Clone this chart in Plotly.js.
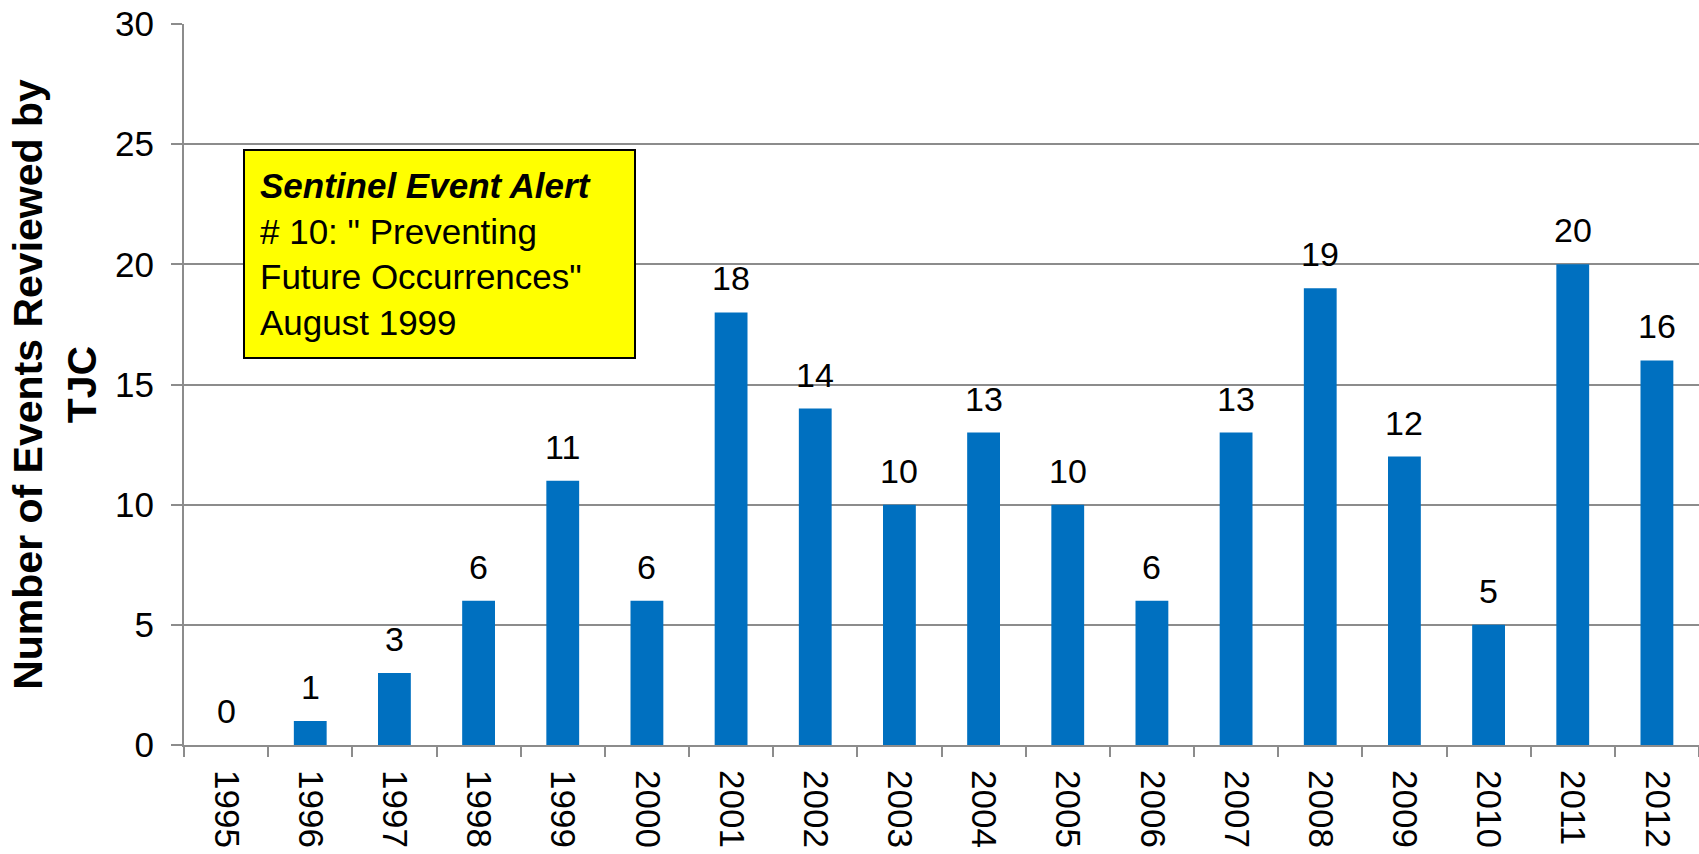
<!DOCTYPE html>
<html>
<head>
<meta charset="utf-8">
<script src="https://cdn.plot.ly/plotly-3.0.1.min.js"></script>
<style>html,body{margin:0;padding:0;background:#fff;}#chart{width:1699px;height:854px;}</style>
</head>
<body>
<div id="chart"></div>
<script>
const years = ["1995","1996","1997","1998","1999","2000","2001","2002","2003","2004","2005","2006","2007","2008","2009","2010","2011","2012"];
const events = [0,1,3,6,11,6,18,14,10,13,10,6,13,19,12,5,20,16];
const yTicks = [0,5,10,15,20,25,30];
const yTitle = "Number of Events Reviewed by<br>TJC";
const noteText = "<b><i>Sentinel Event Alert</i></b><br># 10: \" Preventing<br>Future Occurrences\"<br>August 1999";

const FONT = "Liberation Sans, Arial, sans-serif";
const GRID = "#8c8c8c";

const trace = {
  type: "bar",
  x: years,
  y: events,
  marker: {color: "#0070C0"},
  hoverinfo: "skip"
};

const labelAnns = years.map((yr, i) => ({
  x: i, y: events[i], xref: "x", yref: "y",
  text: String(events[i]), showarrow: false,
  yanchor: "bottom", yshift: 13,
  font: {family: FONT, size: 34, color: "#000"}
}));

const noteAnn = {
  xref: "paper", yref: "paper",
  x: (243 - 184) / 1515, y: (745 - 149) / 721,
  xanchor: "left", yanchor: "top",
  text: noteText, showarrow: false, align: "left",
  bgcolor: "#FFFF00", bordercolor: "#000", borderwidth: 2, borderpad: 15,
  width: 359, height: 176,
  font: {family: FONT, size: 35, color: "#000"}
};

const layout = {
  width: 1699, height: 854,
  margin: {l: 184, r: 0, t: 24, b: 109, autoexpand: false},
  paper_bgcolor: "#fff", plot_bgcolor: "#fff",
  bargap: 0.61,
  showlegend: false,
  font: {family: FONT, color: "#000"},
  xaxis: {
    type: "category",
    categoryorder: "array", categoryarray: years,
    range: [-0.5, years.length - 0.5], autorange: false,
    tickangle: 90,
    tickson: "boundaries",
    ticks: "outside", ticklen: 10, tickwidth: 2, tickcolor: GRID,
    showline: true, linecolor: GRID, linewidth: 2,
    showgrid: false,
    tickfont: {family: FONT, size: 35, color: "#000"},
    ticklabelstandoff: 16,
    automargin: false
  },
  yaxis: {
    range: [0, 30], autorange: false,
    tickvals: yTicks,
    ticks: "outside", ticklen: 11, tickwidth: 2, tickcolor: GRID,
    showline: true, linecolor: GRID, linewidth: 2,
    showgrid: true, gridcolor: GRID, gridwidth: 2,
    zeroline: false,
    tickfont: {family: FONT, size: 35, color: "#000"},
    ticklabelstandoff: 10,
    title: {text: yTitle, font: {family: FONT, size: 41, color: "#000", weight: "bold"}, standoff: 6},
    automargin: false
  },
  annotations: labelAnns.concat([noteAnn])
};

Plotly.newPlot("chart", [trace], layout, {displayModeBar: false, staticPlot: true});
</script>
</body>
</html>
